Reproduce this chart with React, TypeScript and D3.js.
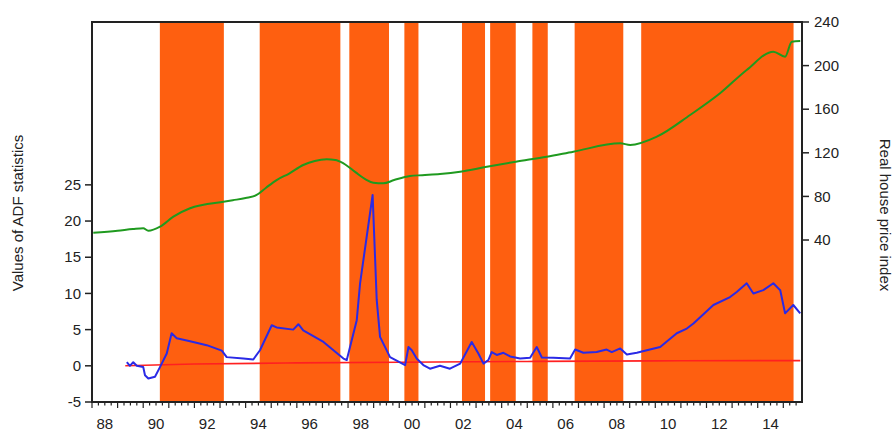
import React from "react";
import * as d3 from "d3";

// Shaded periods (start, end) in decimal years
const bandStarts = [1990.65, 1994.55, 1998.05, 2000.2, 2002.45, 2003.55, 2005.2, 2006.85, 2009.45];
const bandEnds = [1993.15, 1997.7, 1999.6, 2000.75, 2003.35, 2004.55, 2005.8, 2008.75, 2015.4];

// Real house price index (right axis)
const hpiYears = [1988.05, 1989.0, 1989.6, 1990.0, 1990.2, 1990.66, 1991.18, 1991.83, 1992.0, 1992.5, 1993.13, 1993.5, 1994.0, 1994.43, 1994.8, 1995.21, 1995.7, 1996.25, 1996.7, 1997.17, 1997.5, 1997.82, 1998.3, 1998.7, 1998.99, 1999.38, 1999.8, 2000.42, 2000.9, 2001.59, 2002.38, 2003.42, 2004.55, 2005.76, 2006.8, 2008.63, 2009.02, 2010.06, 2011.36, 2012.53, 2013.57, 2014.61, 2015.07, 2015.33, 2015.66];
const hpiValues = [46.7, 48.5, 50.0, 50.7, 48.5, 52.2, 61.4, 69.1, 70.5, 73.0, 75.1, 76.5, 78.5, 81.3, 88.0, 95.0, 101.0, 108.8, 112.5, 114.0, 113.5, 110.4, 102.0, 95.5, 92.6, 92.0, 95.0, 98.7, 99.5, 100.6, 102.7, 107.2, 111.8, 116.4, 121.0, 128.7, 127.2, 134.8, 154.7, 174.6, 196.0, 212.8, 208.2, 221.9, 222.6];

// ADF statistics (left axis)
const adfYears = [1989.36, 1989.48, 1989.61, 1989.75, 1990.0, 1990.07, 1990.2, 1990.46, 1990.66, 1990.92, 1991.11, 1991.31, 1991.83, 1992.48, 1993.07, 1993.26, 1993.91, 1994.3, 1994.56, 1995.02, 1995.21, 1995.86, 1996.06, 1996.25, 1997.04, 1997.82, 1997.95, 1998.34, 1998.47, 1998.96, 1999.12, 1999.25, 1999.64, 2000.23, 2000.36, 2000.49, 2000.68, 2000.94, 2001.2, 2001.59, 2001.98, 2002.38, 2002.83, 2003.09, 2003.29, 2003.48, 2003.61, 2003.81, 2004.07, 2004.33, 2004.72, 2005.11, 2005.37, 2005.57, 2006.02, 2006.67, 2006.87, 2007.19, 2007.71, 2008.1, 2008.3, 2008.63, 2008.89, 2009.28, 2009.67, 2010.19, 2010.84, 2011.23, 2011.49, 2012.27, 2012.92, 2013.18, 2013.57, 2013.83, 2014.22, 2014.61, 2014.88, 2015.07, 2015.39, 2015.66];
const adfValues = [0.5, 0.0, 0.5, 0.0, -0.15, -1.3, -1.75, -1.5, -0.15, 1.7, 4.5, 3.8, 3.4, 2.85, 2.1, 1.2, 1.0, 0.87, 2.15, 5.6, 5.3, 5.0, 5.75, 4.9, 3.3, 1.0, 0.8, 6.3, 11.4, 23.6, 9.1, 4.0, 1.2, 0.1, 2.6, 2.15, 1.0, 0.1, -0.4, 0.0, -0.4, 0.3, 3.3, 1.7, 0.3, 0.8, 1.9, 1.5, 1.8, 1.3, 1.0, 1.1, 2.6, 1.15, 1.1, 1.0, 2.25, 1.8, 1.9, 2.25, 1.9, 2.4, 1.55, 1.8, 2.15, 2.6, 4.5, 5.15, 5.85, 8.4, 9.5, 10.2, 11.4, 10.0, 10.45, 11.4, 10.45, 7.25, 8.4, 7.25];

// Critical values (left axis)
const cvYears = [1989.3, 1992.0, 1996.0, 2000.0, 2005.0, 2010.0, 2015.66];
const cvValues = [0.0, 0.25, 0.4, 0.5, 0.6, 0.68, 0.72];

const leftTicks = [-5, 0, 5, 10, 15, 20, 25];
const rightTicks = [40, 80, 120, 160, 200, 240];
const yearLabels = ["88", "90", "92", "94", "96", "98", "00", "02", "04", "06", "08", "10", "12", "14"];
const labelYears = [1988, 1990, 1992, 1994, 1996, 1998, 2000, 2002, 2004, 2006, 2008, 2010, 2012, 2014];

const W = 894;
const H = 433;
const L = 92, R = 802, T = 22, B = 402;
const FONT = "'Liberation Sans', Arial, sans-serif";

export default function App() {
  const x = d3.scaleLinear().domain([1988, 2015.73]).range([L, R]);
  const yL = d3.scaleLinear().domain([-5, 47.5]).range([B, T]);
  const yR = d3.scaleLinear().domain([-108.6, 240]).range([B, T]);

  const hpi = hpiYears.map((t, i) => [t, hpiValues[i]] as [number, number]);
  const adf = adfYears.map((t, i) => [t, adfValues[i]] as [number, number]);
  const cv = cvYears.map((t, i) => [t, cvValues[i]] as [number, number]);

  const lineR = d3.line<[number, number]>().x(d => x(d[0])).y(d => yR(d[1])).curve(d3.curveMonotoneX);
  const lineL = d3.line<[number, number]>().x(d => x(d[0])).y(d => yL(d[1]));
  const lineCv = d3.line<[number, number]>().x(d => x(d[0])).y(d => yL(d[1])).curve(d3.curveMonotoneX);

  const qTicks = d3.range(1988, 2015.74, 0.25);

  return (
    <svg width={W} height={H} style={{ position: "absolute", left: 0, top: 0, background: "#fff" }} fontFamily={FONT}>
      <defs>
        <clipPath id="plot">
          <rect x={L} y={T} width={R - L} height={B - T} />
        </clipPath>
      </defs>
      <g clipPath="url(#plot)">
        {bandStarts.map((s, i) => (
          <rect key={i} x={x(s)} y={T} width={x(bandEnds[i]) - x(s)} height={B - T} fill="#FE5F10" />
        ))}
        <path d={lineR(hpi) || ""} fill="none" stroke="#1f9a1f" strokeWidth={2} />
        <path d={lineCv(cv) || ""} fill="none" stroke="#ff2020" strokeWidth={1.6} />
        <path d={lineL(adf) || ""} fill="none" stroke="#2a2ae6" strokeWidth={2} strokeLinejoin="round" />
      </g>
      <rect x={L} y={T} width={R - L} height={B - T} fill="none" stroke="#222" strokeWidth={2} />
      {/* left axis */}
      {leftTicks.map(v => (
        <g key={v}>
          <line x1={L - 7} x2={L} y1={yL(v)} y2={yL(v)} stroke="#222" strokeWidth={1.5} />
          <text x={L - 11} y={yL(v)} dy="0.35em" textAnchor="end" fontSize={15} fill="#222">{v}</text>
        </g>
      ))}
      {/* right axis */}
      {rightTicks.map(v => (
        <g key={v}>
          <line x1={R} x2={R + 7} y1={yR(v)} y2={yR(v)} stroke="#222" strokeWidth={1.5} />
          <text x={R + 12} y={yR(v)} dy="0.35em" textAnchor="start" fontSize={15} fill="#222">{v}</text>
        </g>
      ))}
      {/* bottom axis */}
      {qTicks.map((t, i) => (
        <line key={i} x1={x(t)} x2={x(t)} y1={B} y2={B + (i % 4 === 0 ? 6 : 3.5)} stroke="#222" strokeWidth={1.2} />
      ))}
      {labelYears.map((yr, i) => (
        <text key={yr} x={x(yr + 0.5)} y={429} textAnchor="middle" fontSize={15} fill="#222">{yearLabels[i]}</text>
      ))}
      <text transform={`translate(23,213) rotate(-90)`} textAnchor="middle" fontSize={15} fill="#222">Values of ADF statistics</text>
      <text transform={`translate(880,215) rotate(90)`} textAnchor="middle" fontSize={15} fill="#222">Real house price index</text>
    </svg>
  );
}
